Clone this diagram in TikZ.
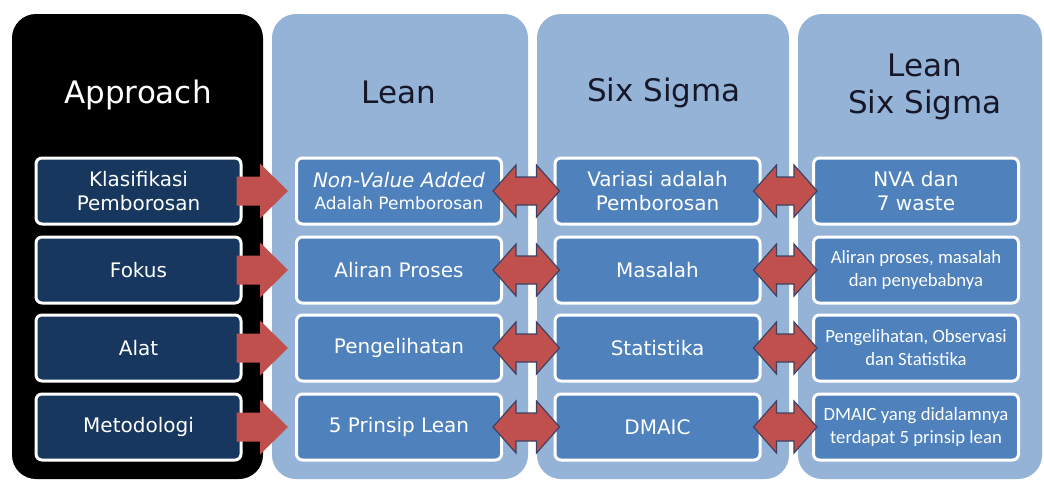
\documentclass[tikz,border=0pt]{standalone}
\usepackage{fontspec}
\setmainfont{DejaVu Sans}
\newfontfamily\lssfont{Carlito}
\usetikzlibrary{calc}
\tikzset{>=latex}
\definecolor{colblue}{RGB}{149,179,215}
\definecolor{navybox}{RGB}{23,55,94}
\definecolor{bluebox}{RGB}{79,129,189}
\definecolor{redarrow}{RGB}{192,80,77}
\definecolor{arrowline}{RGB}{62,66,98}
\definecolor{headtext}{RGB}{22,24,42}
\tikzset{
  headtxt/.style={font=\fontsize{31}{37}\selectfont, inner sep=0pt, align=center, text=headtext},
  box/.style={draw=white, line width=3pt, rounded corners=6pt, minimum width=205pt,
    minimum height=66pt, align=center, text=white, inner sep=0pt,
    font=\fontsize{20}{24}\selectfont},
  apbox/.style={box, fill=navybox},
  leanbox/.style={box, fill=bluebox},
  lsstxt/.style={font=\lssfont\fontsize{18.7}{23}\selectfont},
  fatone/.style={fill=redarrow},
  fattwo/.style={fill=redarrow, draw=arrowline, line width=1.2pt, line join=miter}
}
\newcommand{\onewayarrow}[2]{%
  \fill[fatone] ($(#1)+(0,-14.5)$) -- ($(#2)+(-28,-14.5)$) -- ($(#2)+(-28,-27.5)$) -- (#2)
    -- ($(#2)+(-28,27.5)$) -- ($(#2)+(-28,14.5)$) -- ($(#1)+(0,14.5)$) -- cycle;}
\newcommand{\twowayarrow}[2]{%
  \filldraw[fattwo] (#1) -- ($(#1)+(23,-26)$) -- ($(#1)+(23,-14)$) -- ($(#2)+(-23,-14)$)
    -- ($(#2)+(-23,-26)$) -- (#2) -- ($(#2)+(-23,26)$) -- ($(#2)+(-23,14)$)
    -- ($(#1)+(23,14)$) -- ($(#1)+(23,26)$) -- cycle;}

\begin{document}
\begin{tikzpicture}[x=1pt,y=-1pt]
  \useasboundingbox (0,0) rectangle (1044,482);
  \fill[white] (0,0) rectangle (1044,482);

  \fill[black, rounded corners=24pt] (12,14) rectangle (263,479);
  \fill[colblue, rounded corners=24pt] (272,14) rectangle (528,479);
  \fill[colblue, rounded corners=24pt] (537,14) rectangle (789,479);
  \fill[colblue, rounded corners=24pt] (798,14) rectangle (1042,479);

  \node[headtxt, text=white, anchor=base] (hap) at (138,103) {Approach};
  \node[headtxt, anchor=base] (hln) at (399,103) {Lean};
  \node[headtxt, anchor=base] (hss) at (664,101) {Six Sigma};
  \node[headtxt, font=\fontsize{31}{37}\selectfont] (hlss) at (925,87) {Lean\\Six Sigma};

  \node[apbox] (ap1) at (138.5,191) {Klasifikasi\\Pemborosan};
  \node[apbox] (ap2) at (138.5,270) {Fokus};
  \node[apbox] (ap3) at (138.5,348) {Alat};
  \node[apbox] (ap4) at (138.5,427) {Metodologi};

  \node[leanbox] (ln1) at (399,191) {\textit{Non-Value Added}\\[-2pt]{\fontsize{17}{20}\selectfont Adalah Pemborosan}};
  \node[leanbox] (ln2) at (399,270) {Aliran Proses};
  \node[leanbox] (ln3) at (399,348) {Pengelihatan};
  \node[leanbox] (ln4) at (399,427) {5 Prinsip Lean};

  \node[leanbox] (ss1) at (657.5,191) {Variasi adalah\\Pemborosan};
  \node[leanbox] (ss2) at (657.5,270) {Masalah};
  \node[leanbox] (ss3) at (657.5,348) {Statistika};
  \node[leanbox] (ss4) at (657.5,427) {DMAIC};

  \node[leanbox] (ls1) at (916,191) {NVA dan\\7 waste};
  \node[leanbox, lsstxt] (ls2) at (916,270) {Aliran proses, masalah\\dan penyebabnya};
  \node[leanbox, lsstxt] (ls3) at (916,348) {Pengelihatan, Observasi\\dan Statistika};
  \node[leanbox, lsstxt] (ls4) at (916,427) {DMAIC yang didalamnya\\terdapat 5 prinsip lean};

  \foreach \r in {1,...,4} {
    \coordinate (a\r) at ($(ap\r.east)+(-6,0)$);
    \coordinate (b\r) at ($(ln\r.west)+(-7,0)$);
    \coordinate (c\r) at ($(ln\r.east)+(-10,0)$);
    \coordinate (d\r) at ($(ss\r.west)+(6,0)$);
    \coordinate (e\r) at ($(ss\r.east)+(-8,0)$);
    \coordinate (f\r) at ($(ls\r.west)+(5,0)$);
    \onewayarrow{a\r}{b\r}
    \twowayarrow{c\r}{d\r}
    \twowayarrow{e\r}{f\r}
  }
\end{tikzpicture}
\end{document}
